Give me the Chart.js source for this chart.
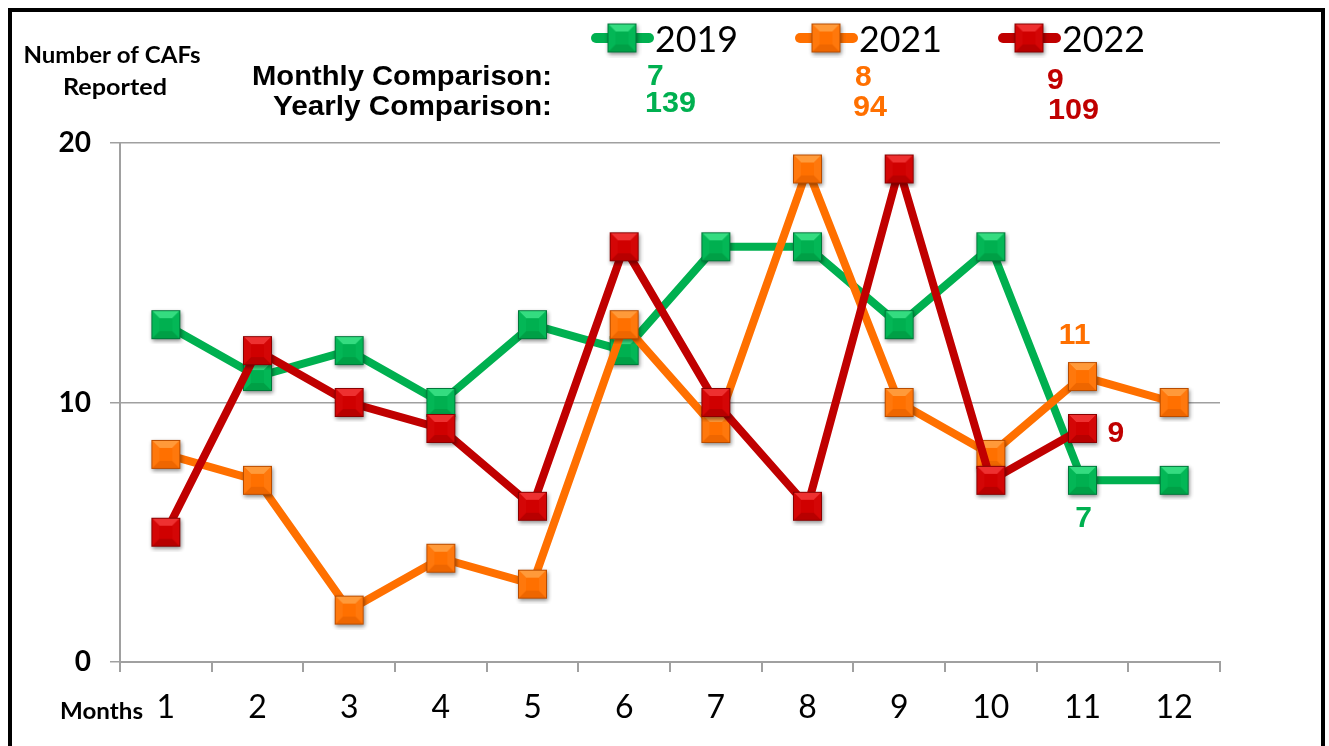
<!DOCTYPE html>
<html>
<head>
<meta charset="utf-8">
<script src="https://cdn.jsdelivr.net/npm/chart.js@4.4.1/dist/chart.umd.min.js"></script>
<style>
  html, body { margin: 0; padding: 0; background: #ffffff; }
  #wrap { width: 1329px; height: 746px; position: relative; }
</style>
</head>
<body>
<div id="wrap"><canvas id="c" width="1329" height="746"></canvas></div>
<script>
// ---- data ----
const months = ['1','2','3','4','5','6','7','8','9','10','11','12'];
const seriesNames = ['2019', '2021', '2022'];
const values2019 = [13, 11, 12, 10, 13, 12, 16, 16, 13, 16, 7, 7];
const values2021 = [8, 7, 2, 4, 3, 13, 9, 19, 10, 8, 11, 10];
const values2022 = [5, 12, 10, 9, 6, 16, 10, 6, 19, 7, 9];
const monthlyComparison = ['7', '8', '9'];
const yearlyComparison = ['139', '94', '109'];
const yTicks = [0, 10, 20];

// ---- styles ----
const GREEN = '#00B050', ORANGE = '#FF7000', RED = '#C00000';
const GRID = '#A0A0A0';

function makeMarker(base, light, side, dark, edge) {
  const s = 29, pad = 5;
  const c = document.createElement('canvas');
  c.width = c.height = s + pad * 2;
  const g = c.getContext('2d');
  const x0 = pad, y0 = pad, x1 = pad + s, y1 = pad + s, ins = 8;
  g.save();
  g.shadowColor = 'rgba(0,0,0,0.45)';
  g.shadowBlur = 4; g.shadowOffsetX = 1; g.shadowOffsetY = 2;
  g.fillStyle = base; g.fillRect(x0, y0, s, s);
  g.restore();
  function poly(pts, col) {
    g.beginPath(); g.moveTo(pts[0][0], pts[0][1]);
    for (let i = 1; i < pts.length; i++) g.lineTo(pts[i][0], pts[i][1]);
    g.closePath(); g.fillStyle = col; g.fill();
  }
  poly([[x0,y0],[x1,y0],[x1-ins,y0+ins],[x0+ins,y0+ins]], light);
  poly([[x0,y1],[x1,y1],[x1-ins,y1-ins],[x0+ins,y1-ins]], dark);
  poly([[x0,y0],[x0+ins,y0+ins],[x0+ins,y1-ins],[x0,y1]], side);
  poly([[x1,y0],[x1-ins,y0+ins],[x1-ins,y1-ins],[x1,y1]], side);
  g.fillStyle = base; g.fillRect(x0+ins, y0+ins, s-2*ins, s-2*ins);
  g.strokeStyle = edge; g.lineWidth = 1;
  g.strokeRect(x0 + 0.5, y0 + 0.5, s - 1, s - 1);
  return c;
}
const mGreen = makeMarker('#00B050', '#34DC80', '#03B756', '#00A046', '#00773A');
const mOrange = makeMarker('#FF7000', '#FF9A3A', '#FF780C', '#EE6600', '#B84C00');
const mRed = makeMarker('#D00000', '#EE3030', '#D40606', '#B80000', '#8A0000');

function txt(ctx, s, x, y, font, color, align, targetW) {
  ctx.save();
  ctx.font = font; ctx.fillStyle = color; ctx.textBaseline = 'alphabetic'; ctx.textAlign = 'left';
  const w = ctx.measureText(s).width;
  const k = targetW ? targetW / w : 1;
  const left = align === 'left' ? x : (align === 'right' ? x - w * k : x - w * k / 2);
  ctx.translate(left, y); ctx.scale(k, 1);
  ctx.fillText(s, 0, 0);
  ctx.restore();
}

const ARIAL = '"Liberation Sans", Arial, sans-serif';

const decorPlugin = {
  id: 'decor',
  afterDraw(chart) {
    const ctx = chart.ctx;
    // frame
    ctx.save();
    ctx.strokeStyle = '#000'; ctx.lineWidth = 4;
    ctx.strokeRect(10, 10, 1313, 760);
    ctx.restore();

    // axis titles
    txt(ctx, 'Number of CAFs', 112, 63, 'bold 22px Lato', '#000', 'center', 177);
    txt(ctx, 'Reported', 115, 95, 'bold 22px Lato', '#000', 'center', 104);
    txt(ctx, 'Months', 60, 719, 'bold 23px Lato', '#000', 'left', 83);

    // comparison headings
    txt(ctx, 'Monthly Comparison:', 552, 85, 'bold 27px ' + ARIAL, '#000', 'right', 300);
    txt(ctx, 'Yearly Comparison:', 552, 115, 'bold 27px ' + ARIAL, '#000', 'right', 279);

    // legend
    const legend = [
      { mk: mGreen, col: GREEN, cx: 622 },
      { mk: mOrange, col: ORANGE, cx: 826 },
      { mk: mRed, col: RED, cx: 1029 }
    ];
    legend.forEach((L, i) => {
      ctx.save();
      ctx.strokeStyle = L.col; ctx.lineWidth = 10; ctx.lineCap = 'round';
      ctx.beginPath(); ctx.moveTo(L.cx - 26, 38); ctx.lineTo(L.cx + 27, 38); ctx.stroke();
      ctx.restore();
      ctx.drawImage(L.mk, L.cx - L.mk.width / 2, 38 - L.mk.height / 2);
      txt(ctx, seriesNames[i], L.cx + 33, 52, '37px Lato', '#000', 'left', 83);
    });

    // comparison values
    const mPos = [[647, 85], [855, 86], [1047, 89]];
    const yPos = [[645, 112, 51], [853, 116, 34], [1048, 119, 51]];
    const cols = [GREEN, ORANGE, RED];
    for (let i = 0; i < 3; i++) {
      txt(ctx, monthlyComparison[i], mPos[i][0], mPos[i][1], 'bold 30px ' + ARIAL, cols[i], 'left');
      txt(ctx, yearlyComparison[i], yPos[i][0], yPos[i][1], 'bold 30px ' + ARIAL, cols[i], 'left', yPos[i][2]);
    }

    // data labels on month 11
    const idx = 10;
    const p19 = chart.getDatasetMeta(2).data[idx];
    const p21 = chart.getDatasetMeta(1).data[idx];
    const p22 = chart.getDatasetMeta(0).data[idx];
    txt(ctx, String(values2021[idx]), p21.x - 8, p21.y - 33, 'bold 30px ' + ARIAL, ORANGE, 'center');
    txt(ctx, String(values2022[idx]), p22.x + 25, p22.y + 14, 'bold 30px ' + ARIAL, RED, 'left');
    txt(ctx, String(values2019[idx]), p19.x + 1, p19.y + 47, 'bold 30px ' + ARIAL, GREEN, 'center');
  }
};

new Chart(document.getElementById('c'), {
  type: 'line',
  data: {
    labels: months,
    datasets: [
      { label: seriesNames[2], data: values2022, borderColor: RED, backgroundColor: RED,
        borderWidth: 8, pointStyle: mRed, pointRadius: 14, order: 0, tension: 0 },
      { label: seriesNames[1], data: values2021, borderColor: ORANGE, backgroundColor: ORANGE,
        borderWidth: 8, pointStyle: mOrange, pointRadius: 14, order: 1, tension: 0 },
      { label: seriesNames[0], data: values2019, borderColor: GREEN, backgroundColor: GREEN,
        borderWidth: 8, pointStyle: mGreen, pointRadius: 14, order: 2, tension: 0 }
    ]
  },
  options: {
    responsive: false,
    animation: false,
    events: [],
    layout: { padding: { left: 0, right: 109, top: 143, bottom: 0 } },
    plugins: { legend: { display: false }, tooltip: { enabled: false } },
    scales: {
      x: {
        offset: true,
        grid: { offset: true, drawOnChartArea: false, drawTicks: true, tickLength: 10, color: GRID, lineWidth: 2 },
        border: { color: GRID, width: 2 },
        ticks: { color: '#000', font: { family: 'Lato', size: 32 }, padding: 16, maxRotation: 0, autoSkip: false },
        afterFit: s => { s.height = 84; }
      },
      y: {
        min: yTicks[0], max: yTicks[yTicks.length - 1],
        afterBuildTicks: s => { s.ticks = yTicks.map(v => ({ value: v })); },
        grid: { color: GRID, lineWidth: 1.5, tickLength: 10, drawTicks: true },
        border: { color: GRID, width: 2 },
        ticks: { color: '#000', font: { family: 'Lato', size: 28, weight: 'bold' }, padding: 19 },
        afterFit: s => { s.width = 120; }
      }
    }
  },
  plugins: [decorPlugin]
});
</script>
</body>
</html>
